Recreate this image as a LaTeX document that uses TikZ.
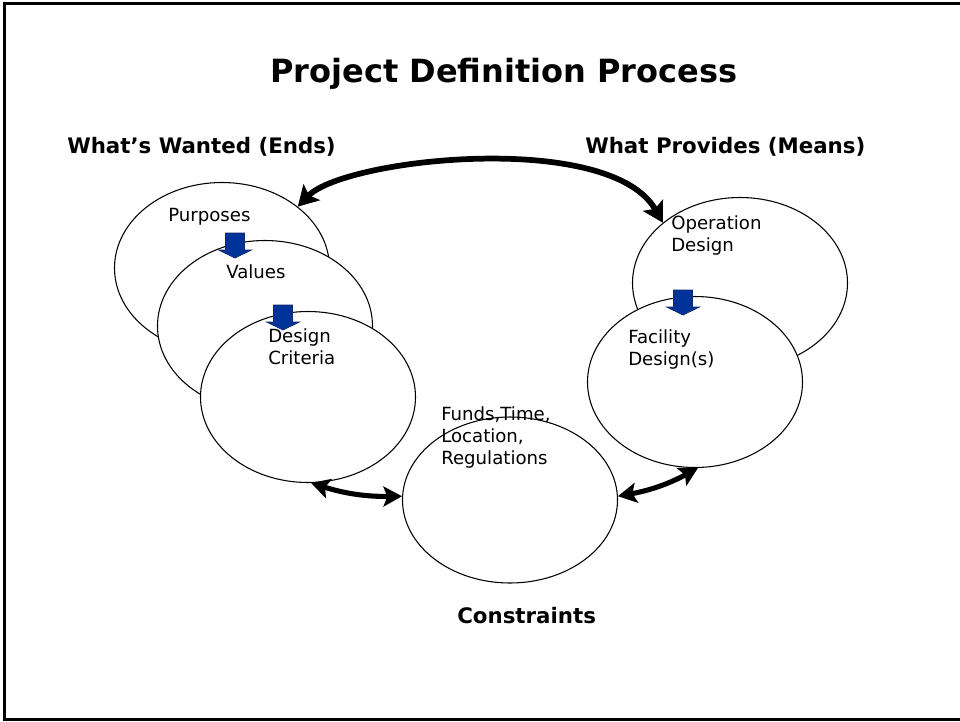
\documentclass[tikz,border=0pt]{standalone}
\usepackage{fontspec}
\setmainfont{DejaVu Sans}
\usetikzlibrary{arrows.meta,shapes.geometric}
\definecolor{arrowblue}{RGB}{0,51,153}
\definecolor{arrowedge}{RGB}{20,40,100}
\begin{document}
\begin{tikzpicture}[x=0.75pt,y=-0.75pt,
  oval/.style={ellipse,draw=black,line width=0.8pt,fill=white,minimum width=161.25pt,minimum height=128.25pt,inner sep=0pt},
  body/.style={font=\fontsize{13.6}{16.5}\selectfont,align=left,anchor=base west,inner sep=0pt},
  heading/.style={font=\fontsize{16}{19}\selectfont\bfseries,anchor=base west,inner sep=0pt},
  bigarc/.style={line width=4.3pt,{Stealth[length=15pt,width=17pt,inset=3pt]}-{Stealth[length=15pt,width=17pt,inset=3pt]}},
  link/.style={line width=3.8pt,{Stealth[length=14pt,width=15pt,inset=3pt]}-{Stealth[length=14pt,width=15pt,inset=3pt]}},
  blockarrow/.pic={\draw[fill=arrowblue,draw=arrowedge,line width=0.5pt] (-9.5,0) -- (9.5,0) -- (9.5,17) -- (16.5,17) -- (0,25) -- (-16.5,17) -- (-9.5,17) -- cycle;}
]
\useasboundingbox (0,0) rectangle (960,721);
\draw[line width=2.25pt] (4.3,3.8) rectangle (962,719.6);

% ellipses
\node[oval] (purp) at (222,268) {};
\node[oval] (val) at (265,326) {};
\node[oval] (dc) at (308,397) {};
\node[oval] (oper) at (740,283) {};
\node[oval] (fac) at (695,382) {};
\node[oval,minimum height=124.5pt] (cons) at (510,500) {};

% texts
\node[font=\fontsize{24}{28}\selectfont\bfseries,anchor=base west,inner sep=0pt] (title) at (270,82) {Project Definition Process};
\node[heading] (ends) at (67,153) {What’s Wanted (Ends)};
\node[heading] (means) at (585,153) {What Provides (Means)};
\node[heading] (constr) at (457,623) {Constraints};
\node[body] (tpurp) at (168,221) {Purposes};
\node[body] (tval) at (226,278) {Values};
\node[body] (tdc) at (268,364) {Design\\Criteria};
\node[body] (toper) at (671,251) {Operation\\Design};
\node[body] (tfac) at (628,365) {Facility\\Design(s)};
\node[body] (tcons) at (441,464) {Funds,Time,\\Location,\\Regulations};

% blue block arrows
\pic at (235,233) {blockarrow};
\pic at (283,305) {blockarrow};
\pic at (683,290) {blockarrow};

% connectors
\draw[bigarc] (purp.39) .. controls (345,158) and (610,130) .. (oper.142);
\draw[link] (dc.-88) to[bend right=9] (cons.178);
\draw[link] (cons.2) to[bend right=9] (fac.-88);
\end{tikzpicture}
\end{document}
